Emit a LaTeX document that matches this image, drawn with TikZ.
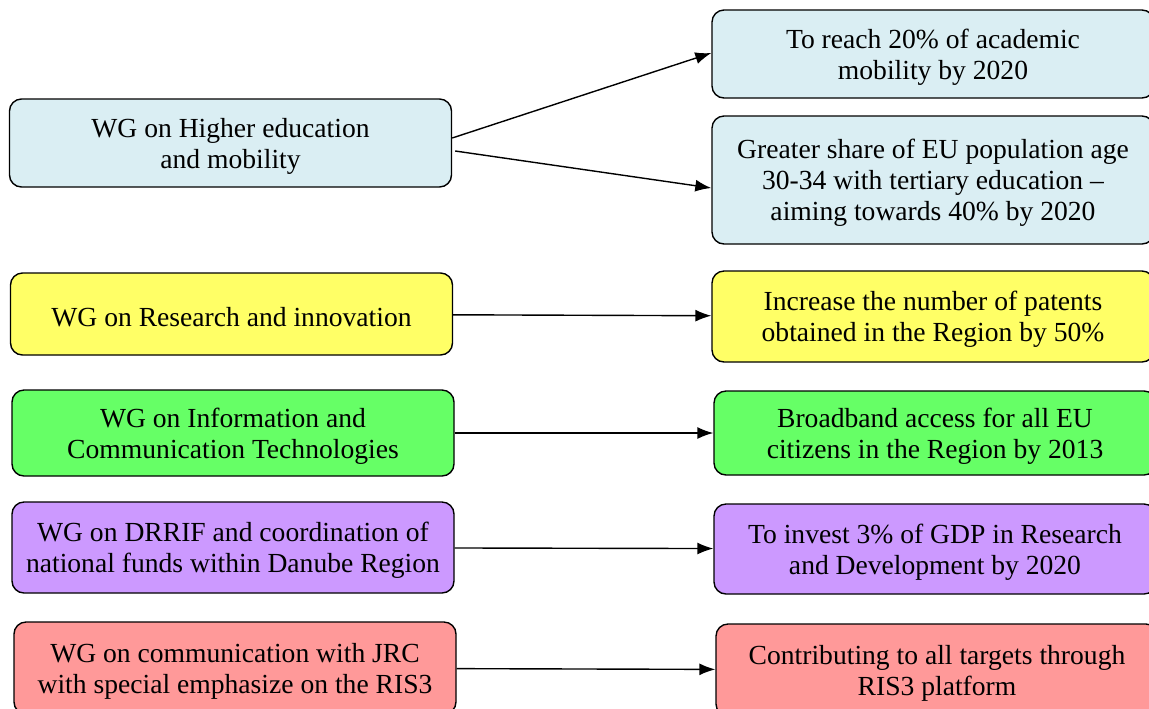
\documentclass[tikz,border=0pt]{standalone}
\usepackage{fontspec}
\setmainfont{Liberation Serif}
\usepackage{tikz}
\usetikzlibrary{shapes,arrows.meta,calc,positioning}
\definecolor{hedublue}{HTML}{DAEEF3}
\definecolor{resyellow}{HTML}{FFFF66}
\definecolor{ictgreen}{HTML}{66FF66}
\definecolor{fundpurple}{HTML}{CC99FF}
\definecolor{jrcred}{HTML}{FF9999}
\tikzstyle{wgbox} = [rectangle, draw, rounded corners=6pt, line width=0.7pt, align=center,
font=\fontsize{13.8}{15.5}\selectfont, text depth=-1pt, minimum width=221pt, inner sep=0pt]
\tikzstyle{goalbox} = [wgbox, minimum width=221pt]
\tikzstyle{line} = [draw, line width=0.7pt, -{Latex[length=8pt,width=6pt]}]

\begin{document}
\begin{tikzpicture}[x=0.5pt, y=-0.5pt]
\useasboundingbox (0,0) rectangle (1149,708);
\clip (0,0) rectangle (1149,708);

\node [wgbox, fill=hedublue, minimum height=44pt] (hedu) at (230.5,143) {WG on Higher education\\and mobility};
\node [goalbox, fill=hedublue, minimum height=44pt] (mobility) at (933,54) {To reach 20\% of academic\\mobility by 2020};
\node [goalbox, fill=hedublue, minimum height=64pt] (tertiary) at (933,180) {Greater share of EU population age\\30-34 with tertiary education --\\aiming towards 40\% by 2020};

\node [wgbox, fill=resyellow, minimum height=41pt, text height=12.4pt] (research) at (231.5,314) {WG on Research and innovation};
\node [goalbox, fill=resyellow, minimum height=45.5pt] (patents) at (933,316.5) {Increase the number of patents\\obtained in the Region by 50\%};

\node [wgbox, fill=ictgreen, minimum height=43pt] (ict) at (233,433) {WG on Information and\\Communication Technologies};
\node [goalbox, fill=ictgreen, minimum height=42pt] (broadband) at (935,433) {Broadband access for all EU\\citizens in the Region by 2013};

\node [wgbox, fill=fundpurple, minimum height=45.5pt] (drrif) at (233,547.5) {WG on DRRIF and coordination of\\national funds within Danube Region};
\node [goalbox, fill=fundpurple, minimum height=45pt] (gdp) at (935,549) {To invest 3\% of GDP in Research\\and Development by 2020};

\node [wgbox, fill=jrcred, minimum height=46pt] (jrc) at (235,668) {WG on communication with JRC\\with special emphasize on the RIS3};
\node [goalbox, fill=jrcred, minimum height=46pt] (ris) at (937,670) {Contributing to all targets through\\RIS3 platform};

\path [line] ([yshift=2.5pt]hedu.east) -- ([yshift=0.5pt]mobility.west);
\path [line] ([shift={(1.5pt,-4pt)}]hedu.east) -- ([yshift=-4pt]tertiary.west);
\path [line] (research) -- (patents);
\path [line] (ict) -- (broadband);
\path [line] (drrif) -- (gdp);
\path [line] (jrc) -- (ris);
\end{tikzpicture}
\end{document}
